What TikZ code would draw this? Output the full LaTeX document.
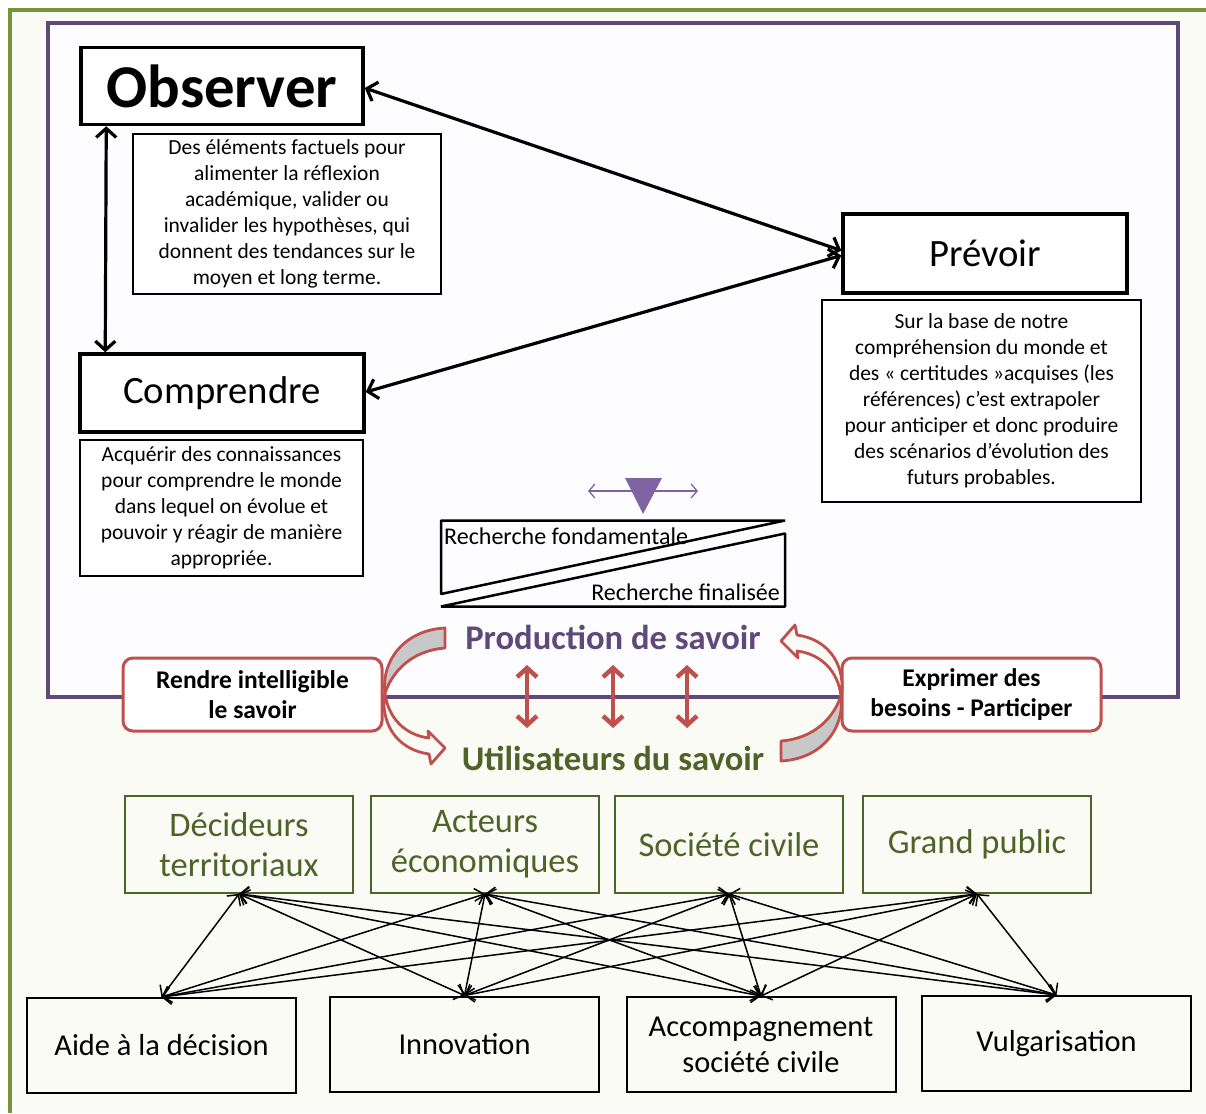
\documentclass[tikz,border=0pt]{standalone}
\usepackage{fontspec}
\setmainfont{Carlito}
\usetikzlibrary{arrows.meta}
\definecolor{grn}{RGB}{119,147,60}
\definecolor{dgrn}{RGB}{79,98,40}
\definecolor{purp}{RGB}{95,73,122}
\definecolor{lpurp}{RGB}{128,100,162}
\definecolor{redc}{RGB}{192,80,77}
\definecolor{cream}{RGB}{251,251,246}
\definecolor{inpurp}{RGB}{253,253,255}
\definecolor{bandc}{RGB}{200,200,200}
\begin{document}
\begin{tikzpicture}[x=1pt,y=-1pt,
  blackbox/.style={draw=black, line width=3.5pt, fill=white, inner sep=0pt},
  descbox/.style={draw=black, line width=1.5pt, fill=white, align=center,
     font=\fontsize{21.5}{26}\selectfont, inner sep=0pt},
  redbox/.style={draw=redc, line width=3pt, rounded corners=10pt, fill=white,
     align=center, font=\bfseries\fontsize{25.5}{30}\selectfont,
     minimum width=259, minimum height=73, inner sep=0pt},
  grnbox/.style={draw=dgrn, line width=1.8pt, text=dgrn, align=center,
     font=\fontsize{34.5}{40}\selectfont, minimum width=228, minimum height=97, inner sep=0pt},
  botbox/.style={draw=black, line width=2pt, align=center,
     font=\fontsize{30.4}{36}\selectfont, minimum width=269, minimum height=95, inner sep=0pt},
  blkarr/.style={line width=3.2pt, {Straight Barb[length=9pt,width=20pt]}-{Straight Barb[length=9pt,width=20pt]}},
  thinarr/.style={line width=1.5pt, {Straight Barb[length=8pt,width=17pt]}-{Straight Barb[length=8pt,width=17pt]}},
  redarr/.style={redc, line width=4.5pt, {Straight Barb[length=9pt,width=20pt]}-{Straight Barb[length=9pt,width=20pt]}},
  purarr/.style={lpurp, line width=1.3pt, {Straight Barb[length=6pt,width=14pt]}-{Straight Barb[length=6pt,width=14pt]}},
  curvearr/.style={draw=redc, line width=2.8pt, line join=round}
]
\useasboundingbox (0,0) rectangle (1206,1113);
% backgrounds and frames
\fill[white] (0,0) rectangle (1206,1113);
\fill[cream] (10,10) rectangle (1206,1113);
\fill[inpurp] (47.5,23) rectangle (1178,697);
\draw[grn, line width=4.5pt] (10,1113) -- (10,10) -- (1206,10);
\draw[purp, line width=4pt] (47.5,23) rectangle (1178,697);

% upper part
\node[blackbox, minimum width=282, minimum height=77,
      font=\bfseries\fontsize{60.8}{61}\selectfont] (obs) at (222,86) {Observer};
\node[descbox, minimum width=308, minimum height=160] (d1) at (287,214)
  {Des éléments factuels pour\\alimenter la réflexion\\académique, valider ou\\invalider les hypothèses, qui\\donnent des tendances sur le\\moyen et long terme.};
\node[blackbox, minimum width=284, minimum height=79,
      font=\fontsize{38.7}{39}\selectfont] (prv) at (985,253.5) {\raisebox{-2pt}{Prévoir}};
\node[descbox, minimum width=319, minimum height=202] (d2) at (981.5,401)
  {Sur la base de notre\\compréhension du monde et\\des « certitudes »acquises (les\\références) c’est extrapoler\\pour anticiper et donc produire\\des scénarios d’évolution des\\futurs probables.};
\node[blackbox, minimum width=284, minimum height=78,
      font=\fontsize{38.7}{39}\selectfont] (comp) at (222,393) {\raisebox{-3pt}{Comprendre}};
\node[descbox, minimum width=283, minimum height=136] (d3) at (221.5,508)
  {Acquérir des connaissances\\pour comprendre le monde\\dans lequel on évolue et\\pouvoir y réagir de manière\\appropriée.};

\draw[blkarr] ([xshift=27pt]obs.south west) -- ([xshift=27pt]comp.north west);
\draw[blkarr] ([yshift=-2pt]obs.east) -- ([yshift=3pt]prv.west);
\draw[blkarr] ([yshift=1pt]comp.east) -- ([yshift=-2pt]prv.west);

% recherche
\fill[lpurp] (625,478) -- (662,478) -- (643,514) -- cycle;
\coordinate (pa) at (588,491);
\coordinate (pb) at (698,491);
\draw[purarr] (pa) -- (pb);
\draw[line width=2.5pt, line join=bevel] (441,520.5) -- (785,520.5) -- (441,594) -- cycle;
\draw[line width=2.5pt, line join=bevel] (785,533.5) -- (785,606.5) -- (441,606.5) -- cycle;
\node[anchor=west, inner sep=0pt, font=\fontsize{24}{24}\selectfont] (rfo) at (444,536) {Recherche fondamentale};
\node[anchor=east, inner sep=0pt, font=\fontsize{24}{24}\selectfont] (rfi) at (780,592) {Recherche finalisée};

% production / utilisateurs
\node[font=\bfseries\fontsize{34.6}{35}\selectfont, text=purp, inner sep=0pt] (prod) at (613,637) {Production de savoir};
\node[font=\bfseries\fontsize{34.6}{35}\selectfont, text=dgrn, inner sep=0pt] (util) at (613,758) {Utilisateurs du savoir};
\foreach \xx/\nm in {527/r1,613/r2,687/r3}{
  \coordinate (\nm a) at (\xx,665);
  \coordinate (\nm b) at (\xx,728);
  \draw[redarr] (\nm a) -- (\nm b);
}

\node[redbox] (rendre) at (252.5,694.5) {Rendre intelligible\\le savoir};
\node[redbox] (expr) at (971.5,694.5) {Exprimer des\\besoins - Participer};

\foreach \r in {0,180}{
  \begin{scope}[rotate around={\r:(613,694.5)}]
    \filldraw[curvearr, fill=bandc] (445,628) -- (445,648) .. controls (418,650) and (395,665) .. (385,693)
      .. controls (381,660) and (405,630) .. (445,628) -- cycle;
    \filldraw[curvearr, fill=cream] (385,693) .. controls (388,718) and (405,735) .. (429,738)
      -- (428,731) -- (445,748) -- (431,764) -- (429,754)
      .. controls (400,750) and (382,728) .. (384,697) -- cycle;
  \end{scope}
}

% users
\node[grnbox] (g1) at (239,844.5) {Décideurs\\territoriaux};
\node[grnbox] (g2) at (485,844.5) {Acteurs\\économiques};
\node[grnbox] (g3) at (729,844.5) {\raisebox{-3pt}{Société civile}};
\node[grnbox] (g4) at (977,844.5) {\raisebox{-3pt}{Grand public}};

\node[botbox] (b1) at (161.5,1045.5) {\raisebox{-3pt}{Aide à la décision}};
\node[botbox] (b2) at (464.5,1044) {\raisebox{-2pt}{Innovation}};
\node[botbox] (b3) at (761,1044.5) {Accompagnement\\société civile};
\node[botbox] (b4) at (1056.5,1043.5) {\raisebox{-3pt}{Vulgarisation}};

\foreach \a in {g1,g2,g3,g4}{
  \foreach \b in {b1,b2,b3,b4}{
    \draw[thinarr] (\a.south) -- (\b.north);
  }
}
\end{tikzpicture}
\end{document}
